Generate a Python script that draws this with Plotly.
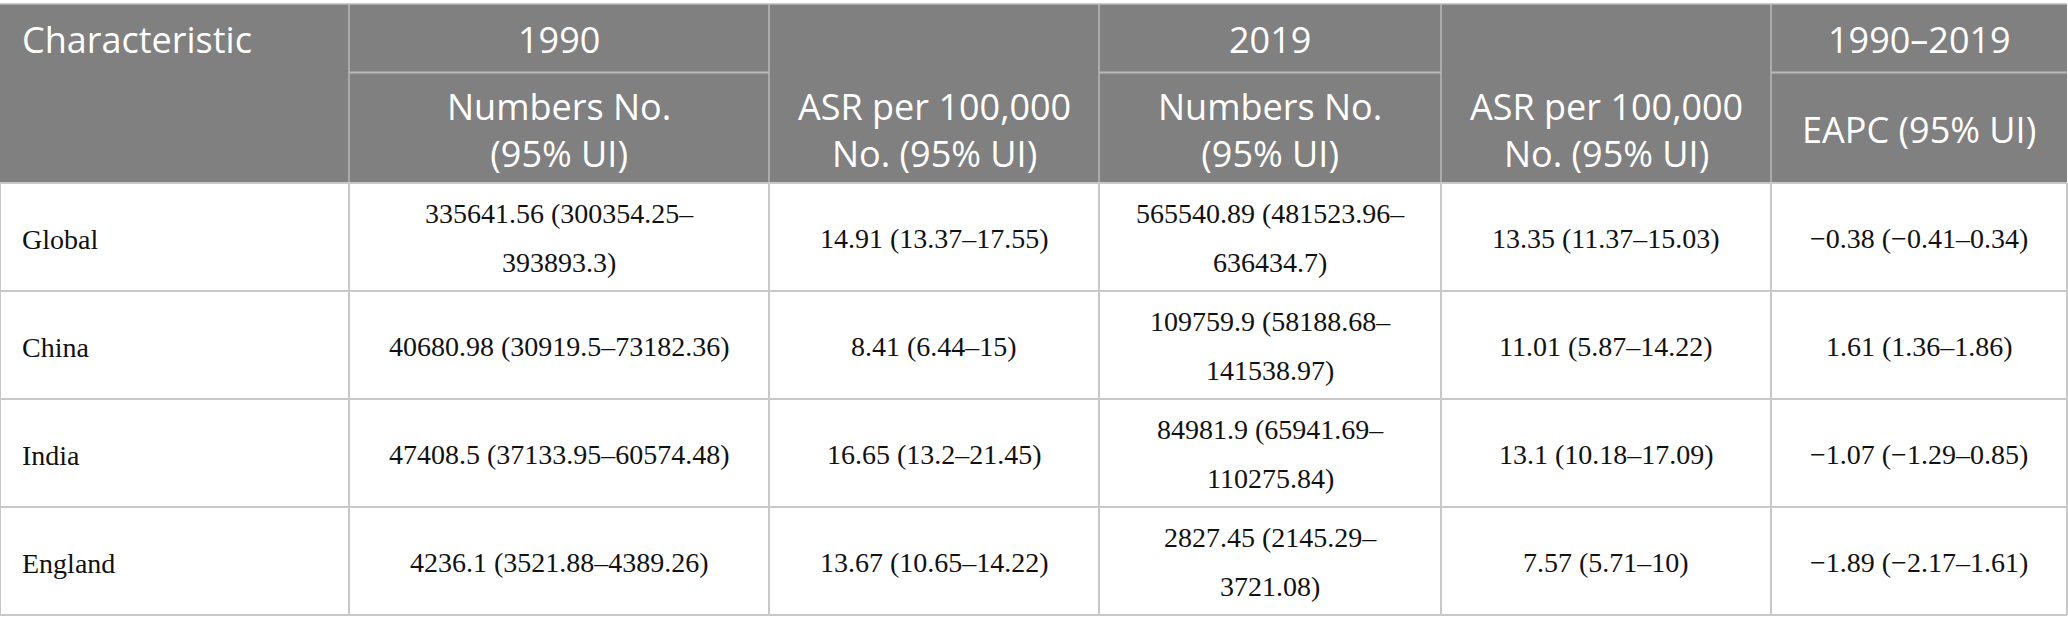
import numpy as np
import plotly.graph_objects as go

# table content
head_top = ["Characteristic", "1990", "", "2019", "", "1990–2019"]
head_sub = ["", "Numbers No.<br>(95% UI)", "ASR per 100,000<br>No. (95% UI)",
            "Numbers No.<br>(95% UI)", "ASR per 100,000<br>No. (95% UI)", "EAPC (95% UI)"]

regions = ["Global", "China", "India", "England"]
num_1990 = ["335641.56 (300354.25–<br>393893.3)", "40680.98 (30919.5–73182.36)",
            "47408.5 (37133.95–60574.48)", "4236.1 (3521.88–4389.26)"]
asr_1990 = ["14.91 (13.37–17.55)", "8.41 (6.44–15)", "16.65 (13.2–21.45)", "13.67 (10.65–14.22)"]
num_2019 = ["565540.89 (481523.96–<br>636434.7)", "109759.9 (58188.68–<br>141538.97)",
            "84981.9 (65941.69–<br>110275.84)", "2827.45 (2145.29–<br>3721.08)"]
asr_2019 = ["13.35 (11.37–15.03)", "11.01 (5.87–14.22)", "13.1 (10.18–17.09)", "7.57 (5.71–10)"]
eapc = ["−0.38 (−0.41–0.34)", "1.61 (1.36–1.86)", "−1.07 (−1.29–0.85)", "−1.89 (−2.17–1.61)"]

columns = [regions, num_1990, asr_1990, num_2019, asr_2019, eapc]

# geometry (pixels)
W, H = 2068, 633
col_w = [349, 420, 330, 342, 330, 296]
top = 4
h_top = 68.5
h_sub = 110.5
row_h = 108
pad_left = 20

edges = np.concatenate([[0], np.cumsum(col_w)])
centers = (edges[:-1] + edges[1:]) / 2
head_bot = top + h_top + h_sub
bottom = head_bot + row_h * len(regions)

HEAD_BG = "#808080"
HEAD_LINE = "#b9b9b9"
BODY_LINE = "#c8c8c8"
head_font = dict(family="Open Sans", size=36, color="white")
body_font = dict(family="Liberation Serif", size=28, color="#111111")

fig = go.Figure()
shapes = []
annots = []

# header block
shapes.append(dict(type="rect", x0=0, x1=edges[-1], y0=top, y1=head_bot,
                   fillcolor=HEAD_BG, line_width=0, layer="below"))
shapes.append(dict(type="line", x0=0, x1=edges[-1], y0=top, y1=top,
                   line=dict(color=HEAD_LINE, width=1.5)))
for x in edges[1:-1]:
    shapes.append(dict(type="line", x0=x, x1=x, y0=top, y1=head_bot,
                       line=dict(color=HEAD_LINE, width=1.5)))
# divider under the year labels
for i, t in enumerate(head_top):
    if t and i > 0:
        shapes.append(dict(type="line", x0=edges[i], x1=edges[i + 1],
                           y0=top + h_top, y1=top + h_top,
                           line=dict(color=HEAD_LINE, width=2)))


def add_cell(text, x, yc, font, xanchor="center"):
    annots.append(dict(x=x, y=yc, text=text, showarrow=False, font=font,
                       xanchor=xanchor, yanchor="middle", align="center"))


def add_lines(text, x, yc, spacing, font, xanchor="center"):
    # wrapped body cells get the wider line gap of the reference
    lines = text.split("<br>")
    n = len(lines)
    for k, ln in enumerate(lines):
        add_cell(ln, x, yc + (k - (n - 1) / 2) * spacing, font, xanchor)


for i, t in enumerate(head_top):
    if not t:
        continue
    if i == 0:
        add_cell(t, pad_left, top + h_top / 2 + 1, head_font, "left")
    else:
        add_cell(t, centers[i], top + h_top / 2 + 1, head_font)
for i, t in enumerate(head_sub):
    if t:
        add_cell(t, centers[i], top + h_top + h_sub / 2 + 2, head_font)

# body grid
for r in range(len(regions) + 1):
    y = head_bot + r * row_h
    shapes.append(dict(type="line", x0=0, x1=edges[-1], y0=y, y1=y,
                       line=dict(color=BODY_LINE, width=2)))
for x in edges:
    shapes.append(dict(type="line", x0=x, x1=x, y0=head_bot, y1=bottom,
                       line=dict(color=BODY_LINE, width=2)))

for r in range(len(regions)):
    yc = head_bot + r * row_h + row_h / 2
    for i, col in enumerate(columns):
        if i == 0:
            add_lines(col[r], pad_left, yc + 2, 49, body_font, "left")
        else:
            add_lines(col[r], centers[i], yc + 1, 49, body_font)

fig.update_layout(
    width=W, height=H,
    margin=dict(l=0, r=0, t=0, b=0),
    paper_bgcolor="white", plot_bgcolor="white",
    xaxis=dict(range=[0, W], visible=False, fixedrange=True),
    yaxis=dict(range=[H, 0], visible=False, fixedrange=True),
    shapes=shapes, annotations=annots,
    showlegend=False,
)

# page body has a default 8px margin; drop it so the table sits at the window edge
fig.write_html("out.html", config={"displayModeBar": False},
               post_script="document.body.style.margin='0';")
